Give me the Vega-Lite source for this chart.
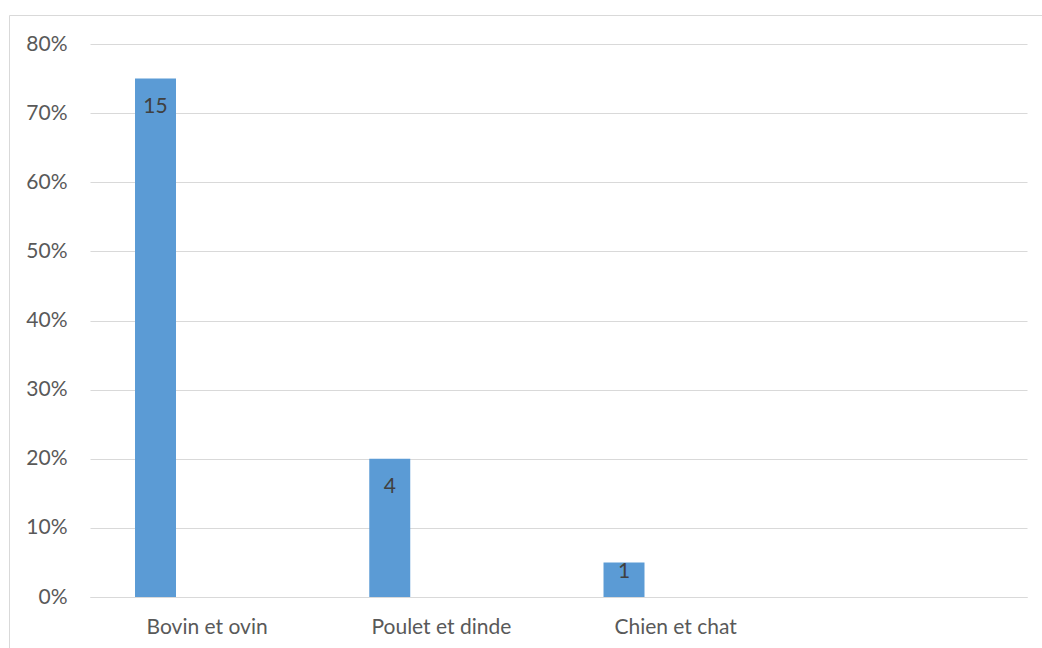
{
  "$schema": "https://vega.github.io/schema/vega-lite/v6.json",
  "width": 1040,
  "height": 640,
  "autosize": {"type": "none"},
  "padding": {"left": 9, "top": 15, "right": 0, "bottom": 0},
  "background": "white",
  "config": {
    "font": "Lato",
    "view": {"stroke": "#D9D9D9", "strokeWidth": 1}
  },
  "data": {
    "values": [
      {"espece": "Bovin et ovin", "serie": "Part", "part": 0.75, "effectif": 15},
      {"espece": "Poulet et dinde", "serie": "Part", "part": 0.20, "effectif": 4},
      {"espece": "Chien et chat", "serie": "Part", "part": 0.05, "effectif": 1}
    ]
  },
  "encoding": {
    "x": {
      "field": "espece",
      "type": "nominal",
      "sort": null,
      "scale": {
        "domain": ["Bovin et ovin", "Poulet et dinde", "Chien et chat", " "],
        "range": [81, 1018],
        "paddingInner": 0,
        "paddingOuter": 0
      },
      "axis": {
        "title": null,
        "offset": -58,
        "labelAngle": 0,
        "labelFontSize": 21,
        "labelColor": "#595959",
        "labelPadding": 19,
        "ticks": false,
        "grid": false,
        "domainColor": "#D9D9D9",
        "domainWidth": 1
      }
    },
    "xOffset": {
      "field": "serie",
      "type": "nominal",
      "scale": {"domain": ["Part", "Autre"], "paddingInner": 0.603, "paddingOuter": 0.436}
    },
    "y": {
      "field": "part",
      "type": "quantitative",
      "scale": {"domain": [0, 0.8], "range": [582, 29], "nice": false},
      "axis": {
        "title": null,
        "offset": -81,
        "values": [0, 0.1, 0.2, 0.3, 0.4, 0.5, 0.6, 0.7, 0.8],
        "format": ".0%",
        "labelFontSize": 21,
        "labelColor": "#595959",
        "labelPadding": 23,
        "domain": false,
        "ticks": false,
        "grid": true,
        "gridColor": "#D9D9D9",
        "gridWidth": 1
      }
    }
  },
  "layer": [
    {"mark": {"type": "bar", "color": "#5B9BD5"}},
    {
      "transform": [{"filter": "datum.part >= 0.1"}],
      "mark": {"type": "text", "baseline": "middle", "dy": 28, "fontSize": 21, "color": "#404040"},
      "encoding": {"text": {"field": "effectif", "type": "quantitative"}}
    },
    {
      "transform": [{"filter": "datum.part < 0.1"}],
      "mark": {"type": "text", "baseline": "middle", "dy": 10, "fontSize": 21, "color": "#404040"},
      "encoding": {"text": {"field": "effectif", "type": "quantitative"}}
    }
  ]
}
